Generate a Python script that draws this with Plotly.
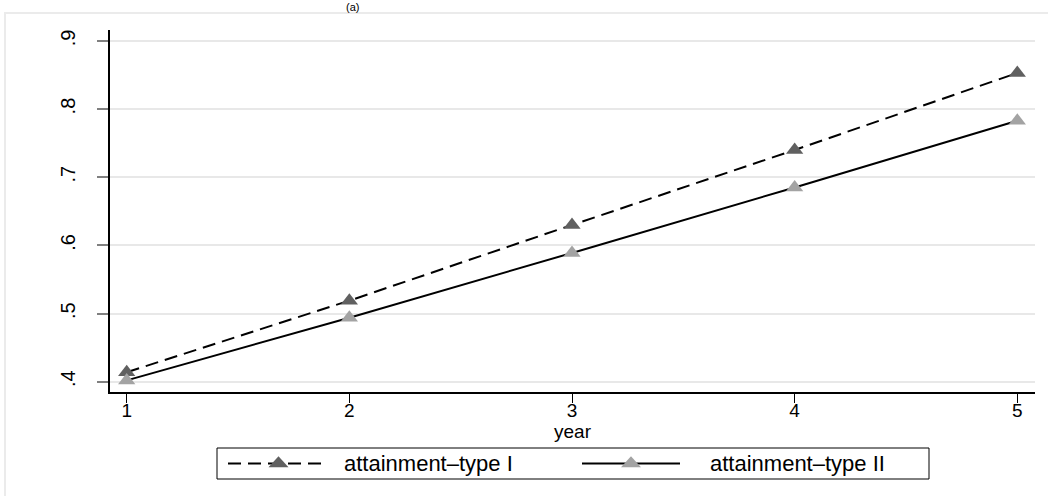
import plotly.graph_objects as go

# ---- data ----
years = [1, 2, 3, 4, 5]
type1 = [0.414, 0.519, 0.630, 0.740, 0.853]
type2 = [0.402, 0.494, 0.589, 0.685, 0.783]
series_names = ["attainment\u2013type I", "attainment\u2013type II"]
y_ticks = [0.4, 0.5, 0.6, 0.7, 0.8, 0.9]
y_tick_labels = [".4", ".5", ".6", ".7", ".8", ".9"]
x_ticks = [1, 2, 3, 4, 5]
x_tick_labels = ["1", "2", "3", "4", "5"]
title_text = "(a)"

# ---- layout geometry (pixels) ----
W, H = 1048, 496
L, R, T, B = 110, 13, 30, 104
PW, PH = W - L - R, H - T - B

def fx(p):
    return (p - L) / PW

def fy(p):
    return (H - B - p) / PH

FONT = "Liberation Sans, Arial, sans-serif"
DARK = "#606060"
LIGHT = "#a3a3a3"

fig = go.Figure()
fig.add_trace(go.Scatter(
    x=years, y=type1, mode="lines+markers", name=series_names[0],
    line=dict(color="black", width=2, dash="13px,7px"),
    marker=dict(symbol="triangle-up", size=15, color=DARK, line=dict(width=0)),
    showlegend=False,
))
fig.add_trace(go.Scatter(
    x=years, y=type2, mode="lines+markers", name=series_names[1],
    line=dict(color="black", width=2),
    marker=dict(symbol="triangle-up", size=15, color=LIGHT, line=dict(width=0)),
    showlegend=False,
))

shapes = []
annotations = []

# outer frame
shapes.append(dict(type="rect", xref="paper", yref="paper",
                   x0=fx(5), x1=fx(1070), y0=fy(13), y1=fy(520),
                   line=dict(color="#ebebeb", width=2), fillcolor="rgba(0,0,0,0)",
                   layer="below"))

# legend box
lg_y = 463.5
shapes.append(dict(type="rect", xref="paper", yref="paper",
                   x0=fx(217), x1=fx(929), y0=fy(448), y1=fy(479),
                   line=dict(color="black", width=1), fillcolor="white"))

def tri(cx, cy, w, h, color):
    p = "M{:.5f},{:.5f} L{:.5f},{:.5f} L{:.5f},{:.5f} Z".format(
        fx(cx - w / 2), fy(cy + h / 3), fx(cx + w / 2), fy(cy + h / 3), fx(cx), fy(cy - 2 * h / 3))
    return dict(type="path", xref="paper", yref="paper", path=p,
                fillcolor=color, line=dict(width=0))

# entry 1
shapes.append(dict(type="line", xref="paper", yref="paper",
                   x0=fx(228), x1=fx(327), y0=fy(lg_y), y1=fy(lg_y),
                   line=dict(color="black", width=2, dash="13px,7px")))
shapes.append(tri(278.5, lg_y, 20, 11, DARK))
annotations.append(dict(xref="paper", yref="paper", x=fx(342), y=fy(lg_y),
                        xanchor="left", yanchor="middle", showarrow=False,
                        text=series_names[0], font=dict(family=FONT, size=22, color="black")))
# entry 2
shapes.append(dict(type="line", xref="paper", yref="paper",
                   x0=fx(582), x1=fx(680), y0=fy(lg_y), y1=fy(lg_y),
                   line=dict(color="black", width=2)))
shapes.append(tri(631, lg_y, 20, 11, LIGHT))
annotations.append(dict(xref="paper", yref="paper", x=fx(708), y=fy(lg_y),
                        xanchor="left", yanchor="middle", showarrow=False,
                        text=series_names[1], font=dict(family=FONT, size=22, color="black")))

# title (small, kept inside the page)
annotations.append(dict(xref="paper", yref="paper", x=fx(352), y=fy(0),
                        xanchor="center", yanchor="top", showarrow=False,
                        text=title_text, borderpad=0,
                        font=dict(family=FONT, size=11, color="black")))

fig.update_layout(
    width=W, height=H,
    margin=dict(l=L, r=R, t=T, b=B, pad=0),
    paper_bgcolor="white", plot_bgcolor="white",
    font=dict(family=FONT, size=18, color="black"),
    shapes=shapes, annotations=annotations,
    showlegend=False,
)
fig.update_xaxes(
    range=[0.925, 5.0795], tickvals=x_ticks, ticktext=x_tick_labels,
    showgrid=False, zeroline=False,
    showline=True, linecolor="black", linewidth=1.5,
    ticks="outside", ticklen=9, tickcolor="black", tickwidth=1,
    ticklabelstandoff=-9,
    tickfont=dict(family=FONT, size=19),
    title=dict(text="year", font=dict(family=FONT, size=19), standoff=2),
)
fig.update_yaxes(
    range=[0.385, 0.916], tickvals=y_ticks, ticktext=y_tick_labels,
    showgrid=True, gridcolor="#e8e8e8", gridwidth=1.5, zeroline=False,
    showline=True, linecolor="black", linewidth=1.5,
    ticks="outside", ticklen=11, tickcolor="#808080", tickwidth=1.5,
    tickangle=-90, ticklabelstandoff=14,
    tickfont=dict(family=FONT, size=20),
)

fig.write_html("out.html", config={"displayModeBar": False},
               post_script="document.body.style.margin='0';document.body.style.overflow='hidden';")
